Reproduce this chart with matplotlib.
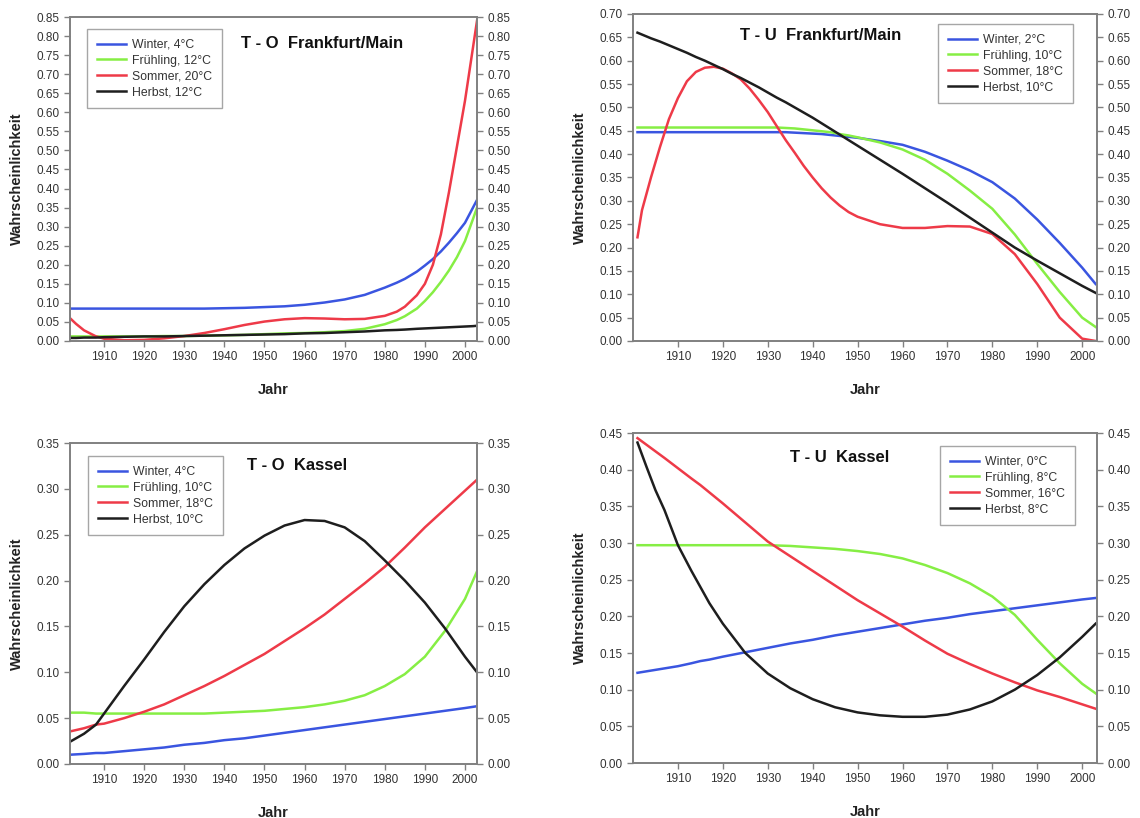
import numpy as np
import matplotlib
matplotlib.use("Agg")
import matplotlib.pyplot as plt
from matplotlib.ticker import FormatStrFormatter, MultipleLocator

plt.rcParams['font.family'] = ['Liberation Sans', 'DejaVu Sans']

# ---- T-O Frankfurt/Main ----
years_tl = [1901, 1903, 1905, 1908, 1910, 1915, 1920, 1925, 1930, 1935, 1940, 1945, 1950, 1955, 1960,
            1965, 1970, 1975, 1980, 1983, 1985, 1988, 1990, 1992, 1994, 1996, 1998, 2000, 2002, 2003]
tl_winter = [.085, .085, .085, .085, .085, .085, .085, .085, .085, .085, .086, .087, .089, .091, .095,
             .101, .109, .121, .140, .153, .163, .182, .198, .215, .235, .258, .283, .310, .350, .370]
tl_fruehling = [.012, .012, .012, .012, .012, .012, .012, .013, .013, .014, .015, .016, .018, .020, .021,
                .023, .026, .032, .044, .055, .065, .085, .105, .128, .155, .185, .220, .262, .320, .350]
tl_sommer = [.065, .045, .028, .012, .006, .002, .003, .007, .013, .021, .031, .042, .051, .057, .060,
             .059, .057, .058, .066, .077, .090, .120, .150, .200, .280, .390, .510, .630, .770, .840]
tl_herbst = [.008, .008, .009, .009, .010, .011, .012, .012, .013, .014, .015, .016, .017, .018, .020,
             .021, .023, .025, .028, .029, .030, .032, .033, .034, .035, .036, .037, .038, .039, .040]

# ---- T-U Frankfurt/Main ----
years_tr = [1901, 1902, 1904, 1906, 1908, 1910, 1912, 1914, 1916, 1918, 1920, 1922, 1924, 1926,
            1928, 1930, 1932, 1934, 1936, 1938, 1940, 1942, 1944, 1946, 1948, 1950, 1955, 1960,
            1965, 1970, 1975, 1980, 1985, 1990, 1995, 2000, 2003]
tr_winter = [.447, .447, .447, .447, .447, .447, .447, .447, .447, .447, .447, .447, .447, .447,
             .447, .447, .447, .447, .446, .445, .444, .443, .441, .439, .437, .435, .428, .420,
             .405, .386, .365, .340, .305, .260, .210, .157, .122]
tr_fruehling = [.457, .457, .457, .457, .457, .457, .457, .457, .457, .457, .457, .457, .457, .457,
                .457, .457, .457, .456, .455, .453, .451, .449, .447, .443, .440, .436, .425, .410,
                .388, .358, .322, .283, .228, .165, .105, .050, .030]
tr_sommer = [.222, .280, .350, .415, .475, .520, .556, .576, .585, .587, .583, .573, .560, .540,
             .516, .490, .460, .430, .403, .375, .350, .327, .307, .290, .276, .266, .250, .242,
             .242, .246, .245, .229, .186, .122, .050, .005, .000]
tr_herbst = [.660, .656, .648, .641, .633, .625, .617, .608, .600, .591, .582, .572, .563, .553,
             .543, .532, .521, .511, .500, .489, .478, .466, .454, .442, .430, .418, .388, .358,
             .327, .296, .264, .232, .200, .172, .145, .118, .103]

# ---- T-O Kassel ----
years_bl = [1901, 1905, 1908, 1910, 1915, 1920, 1925, 1930, 1935, 1940, 1945, 1950, 1955, 1960,
            1965, 1970, 1975, 1980, 1985, 1990, 1995, 2000, 2003]
bl_winter = [.010, .011, .012, .012, .014, .016, .018, .021, .023, .026, .028, .031, .034, .037,
             .040, .043, .046, .049, .052, .055, .058, .061, .063]
bl_fruehling = [.056, .056, .055, .055, .055, .055, .055, .055, .055, .056, .057, .058, .060, .062,
                .065, .069, .075, .085, .098, .117, .145, .180, .210]
bl_sommer = [.035, .039, .043, .044, .050, .057, .065, .075, .085, .096, .108, .120, .134, .148,
             .163, .180, .197, .215, .236, .258, .278, .298, .310]
bl_herbst = [.023, .033, .043, .055, .085, .114, .144, .172, .196, .217, .235, .249, .260, .266,
             .265, .258, .243, .222, .200, .176, .148, .117, .100]

# ---- T-U Kassel ----
years_br = [1901, 1903, 1905, 1907, 1910, 1913, 1915, 1917, 1920, 1925, 1930, 1935, 1940, 1945,
            1950, 1955, 1960, 1965, 1970, 1975, 1980, 1985, 1990, 1995, 2000, 2003]
br_winter = [.123, .125, .127, .129, .132, .136, .139, .141, .145, .151, .157, .163, .168, .174,
             .179, .184, .189, .194, .198, .203, .207, .211, .215, .219, .223, .225]
br_fruehling = [.297, .297, .297, .297, .297, .297, .297, .297, .297, .297, .297, .296, .294, .292,
                .289, .285, .279, .270, .259, .245, .227, .202, .168, .136, .108, .095]
br_sommer = [.443, .434, .425, .416, .402, .388, .379, .369, .354, .328, .302, .282, .262, .242,
             .222, .204, .186, .167, .149, .135, .122, .110, .099, .090, .080, .074]
br_herbst = [.437, .404, .372, .345, .297, .262, .240, .218, .190, .150, .122, .102, .087, .076,
             .069, .065, .063, .063, .066, .073, .084, .100, .120, .144, .172, .190]

labels_tl = ["Winter, 4°C", "Frühling, 12°C", "Sommer, 20°C", "Herbst, 12°C"]
labels_tr = ["Winter, 2°C", "Frühling, 10°C", "Sommer, 18°C", "Herbst, 10°C"]
labels_bl = ["Winter, 4°C", "Frühling, 10°C", "Sommer, 18°C", "Herbst, 10°C"]
labels_br = ["Winter, 0°C", "Frühling, 8°C", "Sommer, 16°C", "Herbst, 8°C"]

colors = ['#3a55e0', '#86ee44', '#ee3a48', '#1e1e1e']
W, H = 1140, 818


def px_rect(l, t, r, b):
    return [l / W, 1 - b / H, (r - l) / W, (b - t) / H]


def panel(fig, rect, years, series, labels, ymax, xlim, title, title_xy, leg_xy):
    ax = fig.add_axes(px_rect(*rect))
    for vals, lab, c in zip(series, labels, colors):
        ax.plot(years, vals, color=c, lw=1.8, label=lab)
    ax.set_xlim(*xlim)
    ax.set_ylim(0, ymax)
    ax.set_xticks(range(1910, 2001, 10))
    ax.yaxis.set_major_locator(MultipleLocator(0.05))
    ax.yaxis.set_major_formatter(FormatStrFormatter('%.2f'))
    for sp in ax.spines.values():
        sp.set_color('#808080')
        sp.set_linewidth(1.4)
    ax.tick_params(direction='out', length=4, width=1, color='#808080',
                   labelsize=8.5, labelcolor='#333333', top=False)
    ax.set_xlabel("Jahr", fontsize=10.5, fontweight='bold', labelpad=14, color='#222222')
    ax.set_ylabel("Wahrscheinlichkeit", fontsize=10.5, fontweight='bold', labelpad=9, color='#222222')

    ax2 = ax.twinx()
    ax2.set_ylim(0, ymax)
    ax2.yaxis.set_major_locator(MultipleLocator(0.05))
    ax2.yaxis.set_major_formatter(FormatStrFormatter('%.2f'))
    ax2.tick_params(direction='out', length=4, width=1, color='#808080',
                    labelsize=8.5, labelcolor='#333333')
    for sp in ax2.spines.values():
        sp.set_visible(False)

    fig.text(title_xy[0] / W, 1 - title_xy[1] / H, title, ha='center', va='center',
             fontsize=12, fontweight='bold', color='#111111')
    leg = ax.legend(loc='upper left', bbox_to_anchor=(leg_xy[0] / W, 1 - leg_xy[1] / H),
                    bbox_transform=fig.transFigure, fontsize=8.8, frameon=True, fancybox=False,
                    handlelength=2.4, labelspacing=0.32, borderpad=0.8, handletextpad=0.5,
                    borderaxespad=0)
    leg.get_frame().set_edgecolor('#909090')
    leg.get_frame().set_linewidth(1.0)
    for t in leg.get_texts():
        t.set_color('#333333')
    return ax


fig = plt.figure(figsize=(W / 100, H / 100), dpi=100)

panel(fig, (70, 17, 477, 341), years_tl, [tl_winter, tl_fruehling, tl_sommer, tl_herbst],
      labels_tl, 0.85, (1901.5, 2003), "T - O  Frankfurt/Main", (322, 44), (87, 29))
panel(fig, (633, 14, 1097, 341), years_tr, [tr_winter, tr_fruehling, tr_sommer, tr_herbst],
      labels_tr, 0.70, (1900, 2003.3), "T - U  Frankfurt/Main", (821, 36), (938, 24))
panel(fig, (70, 443, 477, 764), years_bl, [bl_winter, bl_fruehling, bl_sommer, bl_herbst],
      labels_bl, 0.35, (1901.5, 2003), "T - O  Kassel", (297, 465), (88, 456))
panel(fig, (633, 433, 1097, 763), years_br, [br_winter, br_fruehling, br_sommer, br_herbst],
      labels_br, 0.45, (1900, 2003.3), "T - U  Kassel", (840, 458), (940, 446))

fig.savefig("out.png", dpi=100)
